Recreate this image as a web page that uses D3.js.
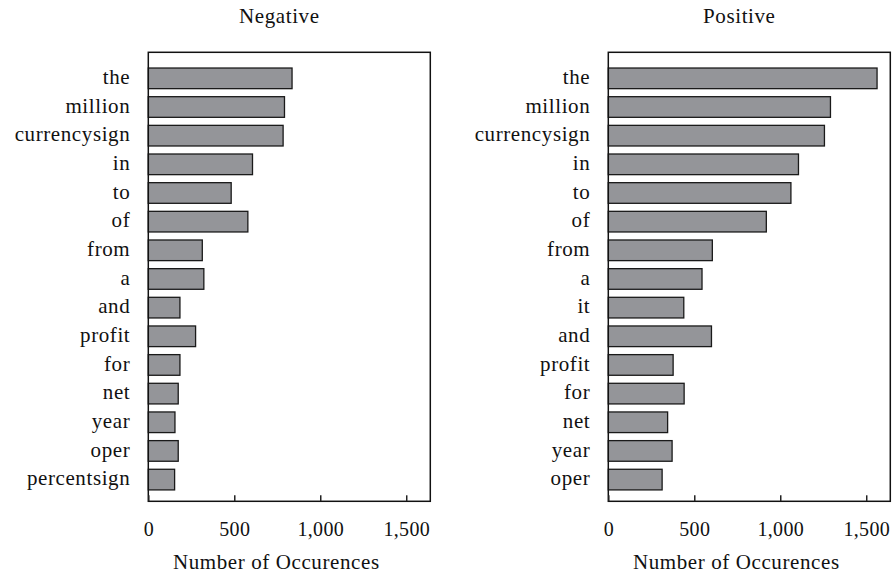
<!DOCTYPE html>
<html>
<head>
<meta charset="utf-8">
<script src="https://cdn.jsdelivr.net/npm/d3@7"></script>
<style>
  body { margin: 0; background: #fff; }
  text { font-family: "Liberation Serif", "Times New Roman", serif; fill: #111; }
</style>
</head>
<body>
<div id="chart"></div>
<script>
// Word counts
const negWords = ['the', 'million', 'currencysign', 'in', 'to', 'of', 'from', 'a', 'and', 'profit', 'for', 'net', 'year', 'oper', 'percentsign'];
const negCounts = [836, 792, 784, 606, 482, 579, 314, 323, 184, 275, 184, 174, 155, 174, 153];

const posWords = ['the', 'million', 'currencysign', 'in', 'to', 'of', 'from', 'a', 'it', 'and', 'profit', 'for', 'net', 'year', 'oper'];
const posCounts = [1563, 1292, 1257, 1106, 1062, 919, 605, 545, 439, 600, 377, 441, 345, 371, 313];

const xTicks = [0, 500, 1000, 1500];
const xMax = 1640;

const width = 892, height = 578;
const plotW = 282, plotH = 449;
const plotTop = 52.3;

const svg = d3.select("#chart")
    .append("svg")
    .attr("width", width)
    .attr("height", height);

// shared x scale
const x = d3.scaleLinear().domain([0, xMax]).range([0, plotW]);

function drawPanel(left, title, words, counts) {
    const data = words.map((w, i) => ({ word: w, count: counts[i] }));

    const y = d3.scaleBand()
        .domain(words)
        .range([0, plotH])
        .paddingInner(0.28)
        .paddingOuter(0.473)
        .align(0.58);

    const g = svg.append("g")
        .attr("transform", `translate(${left}, ${plotTop})`);

    // bars
    g.selectAll("rect.bar")
        .data(data)
        .enter()
        .append("rect")
        .attr("class", "bar")
        .attr("x", x(0))
        .attr("y", d => y(d.word))
        .attr("width", d => x(d.count))
        .attr("height", y.bandwidth())
        .attr("fill", "#949599")
        .attr("stroke", "#1a1a1a")
        .attr("stroke-width", 1.3);

    // word labels
    g.selectAll("text.word")
        .data(data)
        .enter()
        .append("text")
        .attr("class", "word")
        .attr("x", -18)
        .attr("y", d => y(d.word) + y.bandwidth() / 2)
        .attr("dy", "0.27em")
        .attr("text-anchor", "end")
        .style("font-size", "21px")
        .style("letter-spacing", "0.6px")
        .text(d => d.word);

    // frame
    g.append("rect")
        .attr("width", plotW)
        .attr("height", plotH)
        .attr("fill", "none")
        .attr("stroke", "#111")
        .attr("stroke-width", 1.5);

    // x axis, ticks pointing inward
    const axis = g.append("g")
        .attr("transform", `translate(0, ${plotH})`)
        .call(d3.axisBottom(x)
            .tickValues(xTicks)
            .tickSizeInner(-6)
            .tickSizeOuter(0)
            .tickPadding(21)
            .tickFormat(d3.format(",")));
    axis.select(".domain").remove();
    axis.selectAll(".tick line")
        .attr("stroke", "#222")
        .attr("stroke-width", 1.5);
    axis.selectAll(".tick text")
        .attr("fill", "#111")
        .style("font-family", '"Liberation Serif", serif')
        .style("font-size", "20px")
        .style("letter-spacing", "0.3px");

    // axis title
    g.append("text")
        .attr("x", 128)
        .attr("y", 569 - plotTop)
        .attr("text-anchor", "middle")
        .style("font-size", "21px")
        .style("letter-spacing", "0.6px")
        .text("Number of Occurences");

    // panel title
    g.append("text")
        .attr("x", 131)
        .attr("y", 23.3 - plotTop)
        .attr("text-anchor", "middle")
        .style("font-size", "21px")
        .style("letter-spacing", "0.6px")
        .text(title);
}

drawPanel(148.3, "Negative", negWords, negCounts);
drawPanel(608.3, "Positive", posWords, posCounts);
</script>
</body>
</html>
